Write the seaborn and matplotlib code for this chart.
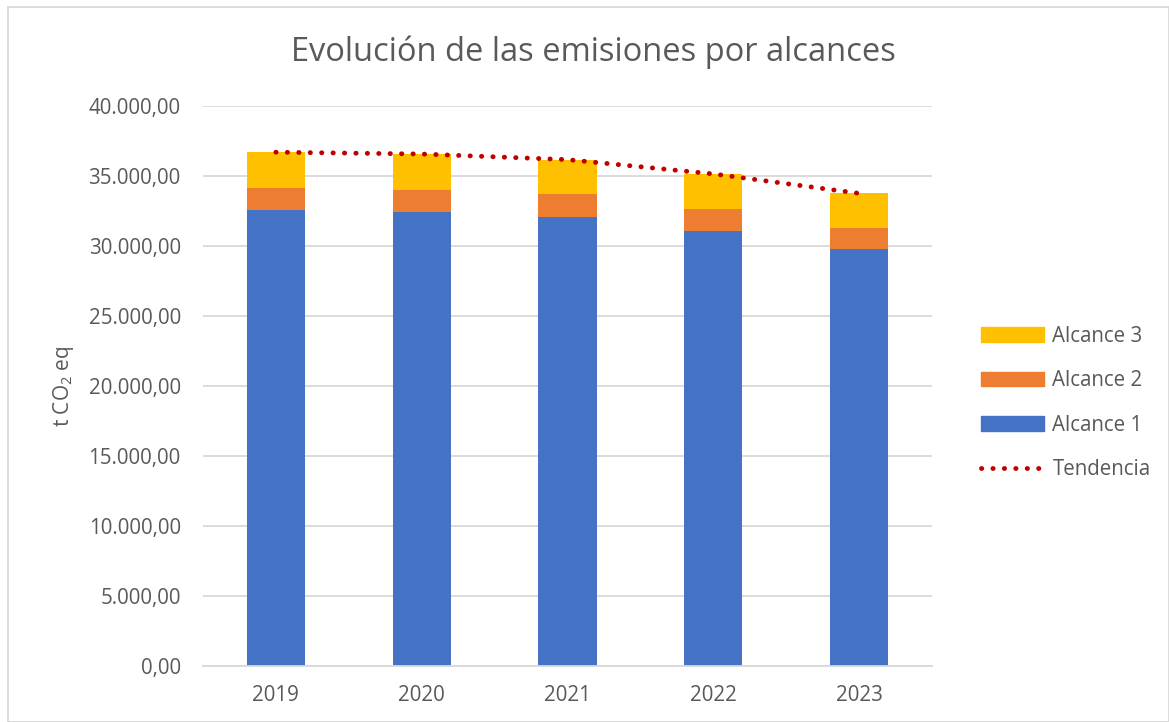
import matplotlib
matplotlib.use("Agg")
import matplotlib.pyplot as plt
import seaborn as sns
import numpy as np
import pandas as pd
from matplotlib.patches import Patch, Rectangle
from matplotlib.lines import Line2D
from matplotlib.ticker import FuncFormatter

years = ["2019", "2020", "2021", "2022", "2023"]
alcance1 = [32590, 32400, 32070, 31050, 29760]
alcance2 = [1570, 1600, 1620, 1590, 1500]
alcance3 = [2550, 2570, 2450, 2480, 2500]
tendencia = [36700, 36570, 36170, 35150, 33760]
y_ticks = [0, 5000, 10000, 15000, 20000, 25000, 30000, 35000, 40000]

c1, c2, c3 = "#4472C4", "#ED7D31", "#FFC000"
trend_c = "#C00000"
txt = "#595959"

sns.set_theme(style="white")
plt.rcParams["font.family"] = ["Open Sans", "DejaVu Sans"]
plt.rcParams["mathtext.default"] = "regular"

fig = plt.figure(figsize=(11.69, 7.22), dpi=100)
ax = fig.add_axes([203/1169, 1-666/722, (932-203)/1169, (666-106)/722])

a1 = np.array(alcance1)
a12 = a1 + np.array(alcance2)
a123 = a12 + np.array(alcance3)
df = pd.DataFrame({"year": years, "a1": a1, "a12": a12, "a123": a123})

for col, c in [("a123", c3), ("a12", c2), ("a1", c1)]:
    sns.barplot(data=df, x="year", y=col, color=c, width=0.4, ax=ax,
                saturation=1, linewidth=0, edgecolor="none")

tdf = pd.DataFrame({"x": np.arange(len(years)), "t": tendencia})
dots = (0, (0.05, 2.3))
sns.lineplot(data=tdf, x="x", y="t", ax=ax, color=trend_c, linewidth=3.5,
             linestyle=dots, dash_capstyle="round", zorder=5)

ax.set_xlim(-0.5, len(years) - 0.5)
ax.set_ylim(0, 40000)
ax.set_yticks(y_ticks)
ax.yaxis.set_major_formatter(FuncFormatter(
    lambda v, p: f"{v:,.2f}".replace(",", "X").replace(".", ",").replace("X", ".")))
ax.grid(axis="y", color="#D9D9D9", linewidth=1.3)
ax.set_axisbelow(True)
for s in ["top", "right", "left"]:
    ax.spines[s].set_visible(False)
ax.spines["bottom"].set_color("#D9D9D9")
ax.spines["bottom"].set_linewidth(1.3)
ax.tick_params(axis="both", length=0, labelsize=14.8, labelcolor=txt)
ax.tick_params(axis="y", pad=16)
ax.tick_params(axis="x", pad=14)
ax.set_xlabel("")
ax.set_ylabel("t CO$_2$ eq", fontsize=15, color=txt, labelpad=9)

fig.text(593/1169, 1-52/722, "Evolución de las emisiones por alcances",
         ha="center", va="center", fontsize=23.5, color=txt)

handles = [Patch(color=c3), Patch(color=c2), Patch(color=c1),
           Line2D([0], [0], color=trend_c, linewidth=3.5, linestyle=dots,
                  dash_capstyle="round")]
labels = ["Alcance 3", "Alcance 2", "Alcance 1", "Tendencia"]
leg = fig.legend(handles, labels, loc="center left", bbox_to_anchor=(962/1169, 1-403/722),
                 frameon=False, fontsize=14.8, labelcolor=txt, handlelength=3.1,
                 handleheight=0.7, labelspacing=1.15, handletextpad=0.4)

fig.patches.append(Rectangle((8/1169, 0), 1-8/1169 - 0.5/1169, 1-7/722,
                             transform=fig.transFigure, fill=False,
                             edgecolor="#D9D9D9", linewidth=1.3))

fig.savefig("out.png", dpi=100)
